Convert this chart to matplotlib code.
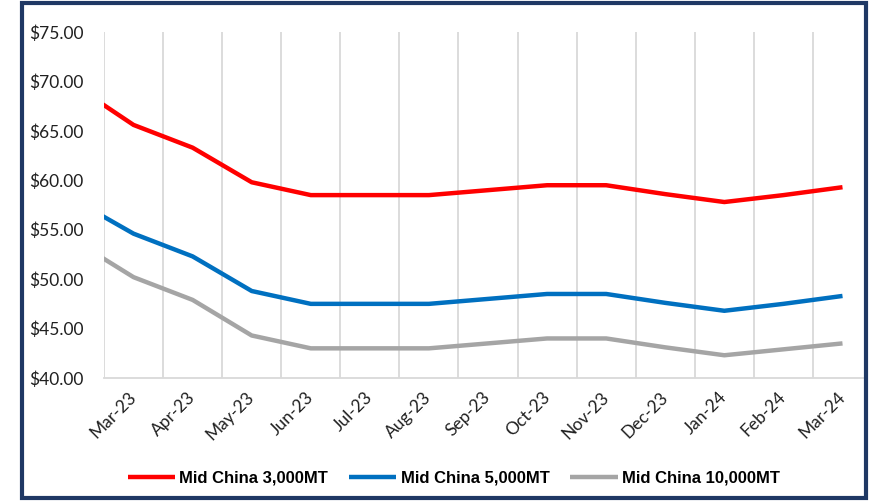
import numpy as np
import matplotlib
matplotlib.use("Agg")
import matplotlib.pyplot as plt
from matplotlib.patches import Rectangle

# Datos (Feb-23 queda fuera del área visible, solo define la entrada de la línea)
meses = ["Feb-23", "Mar-23", "Apr-23", "May-23", "Jun-23", "Jul-23", "Aug-23", "Sep-23",
         "Oct-23", "Nov-23", "Dec-23", "Jan-24", "Feb-24", "Mar-24"]
mid_3000 = [69.6, 65.6, 63.3, 59.8, 58.5, 58.5, 58.5, 59.0, 59.5, 59.5, 58.6, 57.8, 58.5, 59.3]
mid_5000 = [58.0, 54.6, 52.3, 48.8, 47.5, 47.5, 47.5, 48.0, 48.5, 48.5, 47.6, 46.8, 47.5, 48.3]
mid_10000 = [53.9, 50.2, 47.9, 44.3, 43.0, 43.0, 43.0, 43.5, 44.0, 44.0, 43.1, 42.3, 42.9, 43.5]

series = [("Mid China 3,000MT", mid_3000, "#FF0000"),
          ("Mid China 5,000MT", mid_5000, "#0070C0"),
          ("Mid China 10,000MT", mid_10000, "#A5A5A5")]

x = np.arange(len(meses)) - 1

fig = plt.figure(figsize=(8.69, 5.01), dpi=100)
ax = fig.add_axes([104/869, 1 - 378/501, 760/869, 346/501])

for nombre, valores, color in series:
    ax.plot(x, valores, color=color, lw=3.2, label=nombre, solid_capstyle="butt")

ax.set_xlim(-0.5, -0.5 + 760/59.08)
ax.set_ylim(40, 75)
ax.set_yticks(np.arange(40, 76, 5))
ax.yaxis.set_major_formatter(matplotlib.ticker.FuncFormatter(lambda v, p: f"${v:.2f}"))

ax.set_xticks(x[1:])
ax.set_xticklabels(meses[1:], rotation=45, ha="right", va="center", rotation_mode="anchor")
ax.set_xticks(np.arange(-0.5, 12, 1), minor=True)
ax.grid(which="minor", axis="x", color="#D9D9D9", lw=1.3)
ax.tick_params(which="both", length=0)
ax.tick_params(axis="x", which="major", pad=12, labelsize=12.5, labelcolor="#202020")
ax.tick_params(axis="y", pad=15, labelsize=12.5, labelcolor="#202020")
for lab in ax.get_xticklabels() + ax.get_yticklabels():
    lab.set_family("Lato")

for s in ["top", "right", "left"]:
    ax.spines[s].set_visible(False)
ax.spines["bottom"].set_color("#D9D9D9")
ax.spines["bottom"].set_linewidth(1.3)

leg = fig.legend(loc="center", bbox_to_anchor=(0.522, 1 - 478/501), ncol=3, frameon=False,
                 handlelength=2.85, handletextpad=0.25, columnspacing=1.25,
                 prop={"family": "Liberation Sans", "weight": "bold", "size": 12})
for linea in leg.get_lines():
    linea.set_linewidth(3.2)

# Marco exterior
fig.patches.append(Rectangle((22/869, 3/501), 844/869, 495/501, transform=fig.transFigure,
                             fill=False, ec="#1F3864", lw=3, zorder=10))

fig.savefig("out.png", dpi=100)
